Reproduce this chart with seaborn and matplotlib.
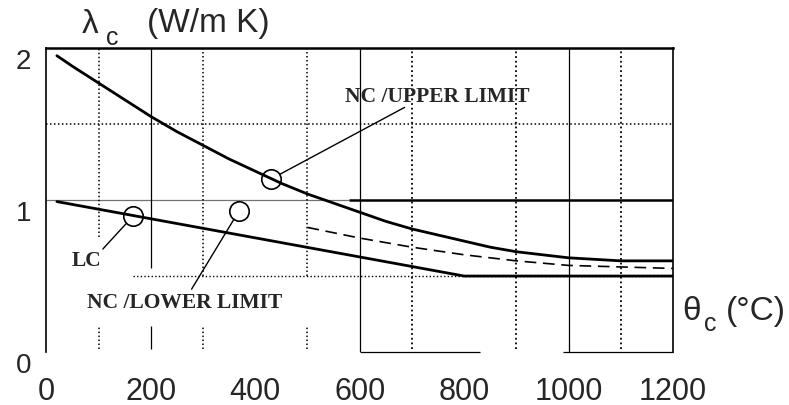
import numpy as np
import pandas as pd
import seaborn as sns
import matplotlib.pyplot as plt

# values
theta_upper = [20, 50, 100, 150, 200, 250, 300, 350, 400, 450, 500, 550, 600,
               650, 700, 750, 800, 850, 900, 950, 1000, 1050, 1100, 1150, 1200]
lam_upper = [1.95, 1.88, 1.77, 1.66, 1.55, 1.45, 1.36, 1.27, 1.19, 1.11, 1.04,
             0.98, 0.92, 0.86, 0.81, 0.77, 0.73, 0.69, 0.66, 0.64, 0.62, 0.61,
             0.60, 0.60, 0.60]

theta_lower = [500, 600, 700, 800, 900, 1000, 1100, 1200]
lam_lower = [0.82, 0.75, 0.69, 0.64, 0.60, 0.57, 0.56, 0.55]

theta_lc = [20, 800, 1200]
lam_lc = [0.99, 0.50, 0.50]

x_ticks = [0, 200, 400, 600, 800, 1000, 1200]
y_ticks = [0, 1, 2]

# label circles (theta, lambda) and where their leader lines end
circle_upper = (431, 1.14)
circle_lc = (166, 0.895)
circle_lower = (369, 0.93)
leader_upper = (686, 1.61)
leader_lc = (108, 0.678)
leader_lower = (278, 0.414)

sns.set_style("white")
plt.rcParams['font.family'] = ['Liberation Sans', 'DejaVu Sans']

W, H = 789, 406
fig = plt.figure(figsize=(W / 100, H / 100), dpi=100)
ax = fig.add_axes([0.0589, 0.1305, 0.794, 0.7485])
ax.set_xlim(0, 1200)
ax.set_ylim(0, 2)

# grid, imitating the scanned original
dot = (0, (1, 1.6))
ax.hlines(1.5, 0, 1200, color='black', lw=1.1, linestyle=dot)
ax.hlines(0.5, 166, 1200, color='black', lw=1.0, linestyle=dot)
ax.hlines(1.0, 0, 580, color='0.45', lw=0.9)
ax.hlines(1.0, 580, 1200, color='black', lw=1.8)
for xv in [300, 500]:
    ax.vlines(xv, 0.5, 2, color='black', lw=1.1, linestyle=dot)
    ax.vlines(xv, 0.02, 0.17, color='black', lw=1.1, linestyle=dot)
ax.vlines(100, 0.76, 2, color='black', lw=1.1, linestyle=dot)
ax.vlines(100, 0.02, 0.17, color='black', lw=1.1, linestyle=dot)
for xv in [700, 900, 1100]:
    ax.vlines(xv, 0.02, 2, color='black', lw=1.3, linestyle=dot)
ax.vlines(200, 0.55, 2, color='black', lw=0.9)
ax.vlines(200, 0.02, 0.17, color='black', lw=0.9)
for xv in [600, 1000]:
    ax.vlines(xv, 0, 2, color='black', lw=0.9)
ax.hlines(0, 600, 830, color='black', lw=0.9, clip_on=False)
ax.hlines(0, 990, 1200, color='black', lw=0.9, clip_on=False)

# curves
sns.lineplot(x=theta_upper, y=lam_upper, ax=ax, color='black', lw=2.0)
sns.lineplot(x=theta_lc, y=lam_lc, ax=ax, color='black', lw=2.0)
sns.lineplot(x=theta_lower, y=lam_lower, ax=ax, color='black', lw=1.2,
             linestyle=(0, (7, 4)))

# circles and leader lines
for c, end in [(circle_upper, leader_upper), (circle_lc, leader_lc),
               (circle_lower, leader_lower)]:
    ax.plot(*c, marker='o', ms=14, mfc='none', mec='black', mew=1.2)
    ax.annotate('', xy=c, xytext=end,
                arrowprops=dict(arrowstyle='-', color='black', lw=1.0,
                                shrinkA=0, shrinkB=7))

serif = dict(family='Liberation Serif', fontweight='bold', fontsize=15.5)
ax.text(749, 1.684, 'NC /UPPER LIMIT', ha='center', va='center', **serif)
ax.text(265, 0.329, 'NC /LOWER LIMIT', ha='center', va='center', **serif)
ax.text(77, 0.605, 'LC', ha='center', va='center', **serif)


# axis titles, placed in pixels from the top-left corner
def px_text(x, y, s, size):
    fig.text(x / W, 1 - y / H, s, fontsize=size, ha='left', va='baseline')


px_text(82, 33, 'λ', 24)
px_text(106, 45, 'c', 18)
px_text(147, 32, '(W/m K)', 24)
px_text(682, 320, 'θ', 24)
px_text(704, 331, 'c', 18)
px_text(726, 320, '(°C)', 24)

ax.set_xticks(x_ticks)
ax.set_yticks(y_ticks)
ax.set_xticklabels([str(v) for v in x_ticks], fontsize=22)
ax.set_yticklabels([str(v) for v in y_ticks], fontsize=20)
ax.tick_params(axis='x', length=0, pad=17)
ax.tick_params(axis='y', length=0, pad=11)
for lab in ax.get_yticklabels():
    lab.set_va('top')

for side in ['top', 'left', 'right']:
    ax.spines[side].set_color('black')
    ax.spines[side].set_linewidth(1.2)
ax.spines['bottom'].set_visible(False)
ax.spines['top'].set_linewidth(1.8)

fig.savefig('out.png', dpi=100)
